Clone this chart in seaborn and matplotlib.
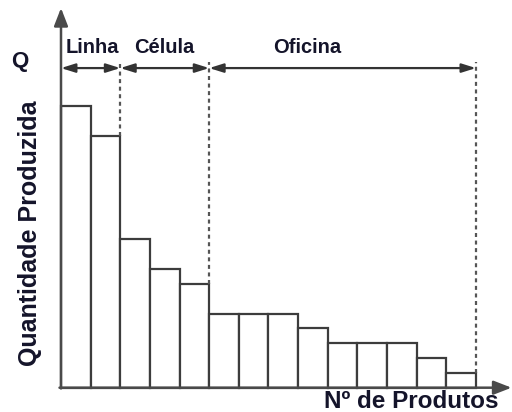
import matplotlib
matplotlib.use("Agg")
import matplotlib.pyplot as plt
import seaborn as sns
import pandas as pd

products = [str(i) for i in range(1, 15)]
quantities = [19, 17, 10, 8, 7, 5, 5, 5, 4, 3, 3, 3, 2, 1]
zones = ["Linha", "Célula", "Oficina"]
zone_bounds = [-0.5, 1.5, 4.5, 13.5]
zone_label_x = [0.55, 3.0, 7.8]

sns.set_theme(style="white")
plt.rcParams['font.family'] = ['Liberation Sans', 'DejaVu Sans']

df = pd.DataFrame({"produto": products, "q": quantities})

fig = plt.figure(figsize=(5.12, 4.12), dpi=100)
ax = fig.add_axes([0, 0, 1, 1])
sns.barplot(data=df, x="produto", y="q", color="white", edgecolor="#3c3c3c",
            linewidth=1.6, width=1.0, saturation=1, ax=ax)

ax.set_xlim(-2.558, 14.716)
ax.set_ylim(-1.639, 26.14)
ax.axis("off")

axc = "#4a4a4a"
txt = "#14142a"
# axes with arrows
ax.annotate("", xy=(-0.5, 25.6), xytext=(-0.5, -0.05),
            arrowprops=dict(arrowstyle="-|>,head_length=0.9,head_width=0.35", color=axc, lw=1.8,
                            shrinkA=0, shrinkB=0))
ax.annotate("", xy=(14.7, 0), xytext=(-0.55, 0),
            arrowprops=dict(arrowstyle="-|>,head_length=0.9,head_width=0.35", color=axc, lw=1.8,
                            shrinkA=0, shrinkB=0))

# dashed separators
tops = [quantities[1], quantities[4], quantities[13]]
for xb, top in zip(zone_bounds[1:], tops):
    ax.vlines(xb, top, 21.95, colors="#555555", linestyles=(0, (1.8, 1.6)), lw=1.6)

# double arrows
for i in range(3):
    ax.annotate("", xy=(zone_bounds[i + 1], 21.55), xytext=(zone_bounds[i], 21.55),
                arrowprops=dict(arrowstyle="<|-|>,head_length=0.7,head_width=0.22", color="#333333",
                                lw=1.6, shrinkA=0, shrinkB=0))
    ax.text(zone_label_x[i], 22.95, zones[i], ha="center", va="center", fontsize=14.5,
            fontweight="bold", color=txt)

ax.text(-1.88, 22.0, "Q", ha="center", va="center", fontsize=16, fontweight="bold", color=txt)
ax.text(-1.55, 10.4, "Quantidade Produzida", rotation=90, ha="center", va="center",
        fontsize=18, fontweight="bold", color=txt)
ax.text(11.3, -0.15, "Nº de Produtos", ha="center", va="top", fontsize=17.5,
        fontweight="bold", color=txt)

fig.savefig("out.png", dpi=100)
